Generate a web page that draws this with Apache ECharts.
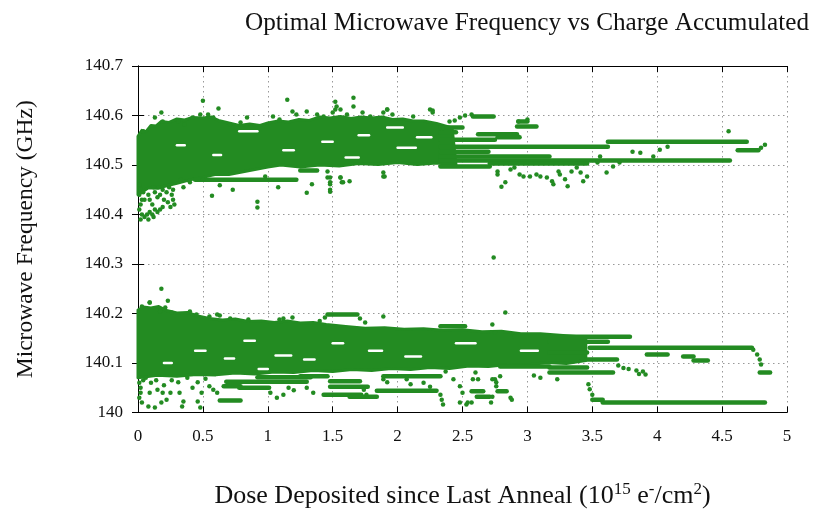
<!DOCTYPE html>
<html><head><meta charset="utf-8">
<script src="https://cdn.jsdelivr.net/npm/echarts@6/dist/echarts.min.js"></script>
<style>html,body{margin:0;padding:0;background:#fff}#c{width:817px;height:514px}</style>
</head><body><div id="c"></div>
<script>
const GREEN = '#238b22';
const titleText = 'Optimal Microwave Frequency vs Charge Accumulated';
const xTickLabels = ['0','0.5','1','1.5','2','2.5','3','3.5','4','4.5','5'];
const yTickLabels = ['140','140.1','140.2','140.3','140.4','140.5','140.6','140.7'];

// dense cores (envelopes) [dose, GHz]
const upperCore = [[0,140.558],[0.03,140.57],[0.06,140.567],[0.1,140.58],[0.14,140.579],[0.18,140.588],[0.24,140.586],[0.3,140.593],[0.36,140.591],[0.42,140.596],[0.5,140.595],[0.56,140.597],[0.62,140.59],[0.7,140.585],[0.78,140.58],[0.86,140.583],[0.94,140.58],[1.0,140.585],[1.08,140.589],[1.16,140.587],[1.24,140.592],[1.32,140.59],[1.4,140.597],[1.48,140.595],[1.56,140.598],[1.64,140.594],[1.72,140.597],[1.8,140.595],[1.88,140.597],[1.96,140.592],[2.04,140.593],[2.12,140.589],[2.2,140.589],[2.3,140.584],[2.42,140.575],
  [2.45,140.5],[2.3,140.504],[2.15,140.501],[2.0,140.505],[1.85,140.501],[1.7,140.503],[1.55,140.498],[1.4,140.5],[1.25,140.496],[1.1,140.5],[1.0,140.496],[0.9,140.491],[0.8,140.486],[0.7,140.481],[0.6,140.481],[0.5,140.475],[0.4,140.47],[0.3,140.463],[0.22,140.458],[0.15,140.453],[0.08,140.454],[0,140.44]];
const lowerCore = [[0,140.207],[0.04,140.213],[0.1,140.211],[0.16,140.214],[0.22,140.206],[0.3,140.201],[0.38,140.202],[0.46,140.195],[0.55,140.19],[0.65,140.187],[0.75,140.189],[0.85,140.184],[0.95,140.185],[1.05,140.182],[1.15,140.185],[1.25,140.181],[1.35,140.182],[1.45,140.178],[1.6,140.174],[1.75,140.17],[1.9,140.171],[2.05,140.168],[2.2,140.169],[2.35,140.166],[2.5,140.167],[2.65,140.163],[2.8,140.164],[2.95,140.159],[3.1,140.159],[3.3,140.155],[3.45,140.152],
  [3.45,140.105],[3.3,140.099],[3.15,140.101],[3.0,140.096],[2.85,140.097],[2.7,140.093],[2.55,140.094],[2.4,140.089],[2.25,140.091],[2.1,140.087],[1.95,140.089],[1.8,140.085],[1.65,140.087],[1.5,140.083],[1.35,140.085],[1.2,140.081],[1.05,140.082],[0.9,140.078],[0.75,140.08],[0.6,140.076],[0.45,140.077],[0.3,140.073],[0.15,140.075],[0,140.07]];

// horizontal runs of points [doseStart, doseEnd, GHz]
const upperRuns = [[0.44,1.22,140.470],[1.25,1.38,140.489],[2.33,2.50,140.576],[2.33,2.45,140.566],[2.58,2.74,140.598],[2.62,2.92,140.562],[2.33,2.75,140.551],[2.77,2.94,140.556],[2.92,3.07,140.578],[2.93,3.00,140.588],[2.33,3.62,140.537],[3.62,4.69,140.547],[4.62,4.78,140.530],[2.33,2.70,140.527],[2.33,3.17,140.517],[2.33,4.56,140.509],[2.33,2.71,140.497],[2.71,3.46,140.503]];
const lowerRuns = [[1.46,1.69,140.198],[2.33,2.52,140.174],[2.9,3.79,140.153],[3.17,3.62,140.143],[3.48,4.73,140.131],[3.45,3.69,140.107],[3.17,3.46,140.121],[3.92,4.08,140.117],[4.20,4.28,140.113],[4.28,4.39,140.105],[4.79,4.87,140.081],[3.17,3.66,140.081],[3.17,3.46,140.091],[2.79,3.17,140.093],[3.58,4.83,140.020],[3.50,3.58,140.026],[0.63,0.79,140.024],[1.84,2.30,140.044],[0.66,0.79,140.053],[0.68,1.30,140.062],[0.78,1.01,140.050],[1.43,1.72,140.036],[1.63,1.84,140.032],[1.48,1.77,140.052],[1.25,1.46,140.073],[1.48,1.71,140.063],[1.89,2.33,140.073],[0.92,1.33,140.071],[2.61,2.71,140.032],[2.57,2.66,140.043],[2.77,2.84,140.043]];

// empty stripes inside the dense cores [doseStart, doseEnd, GHz]
const upperGaps = [[1.92,2.04,140.576],[2.0,2.14,140.535],[1.6,1.7,140.515],[1.42,1.5,140.547],[0.78,0.92,140.568],[2.15,2.26,140.556],[1.12,1.2,140.53],[0.58,0.64,140.52],[1.7,1.78,140.56],[0.3,0.36,140.54]];
const lowerGaps = [[0.67,0.74,140.109],[0.44,0.52,140.125],[1.06,1.18,140.115],[0.82,0.9,140.145],[1.78,1.88,140.125],[2.06,2.18,140.113],[1.28,1.36,140.107],[0.93,1.0,140.088],[2.45,2.6,140.14],[2.95,3.08,140.125],[1.5,1.58,140.14],[0.2,0.26,140.1]];

// individual points [dose, GHz]
const upperPoints = [[0.50,140.630],[1.15,140.632],[1.52,140.628],[1.66,140.636],[0.18,140.606],[0.62,140.614],[2.27,140.610],[0.57,140.438],[0.92,140.426],[0.92,140.414],[0.73,140.450],[0.63,140.459],[1.30,140.444],[1.34,140.461],[1.48,140.475],[1.48,140.465],[1.48,140.450],[1.56,140.475],[1.58,140.465],[1.63,140.467],[1.89,140.485],[1.89,140.477],[1.08,140.455],[0.98,140.477],
  [2.40,140.588],[2.48,140.596],[2.57,140.602],[2.93,140.588],[3.0,140.592],[2.35,140.575],[2.44,140.59],[2.52,140.6],
  [2.80,140.456],[2.83,140.465],[2.77,140.487],[2.77,140.481],[2.87,140.491],[2.90,140.495],[2.94,140.481],[2.97,140.477],[3.02,140.477],[3.07,140.481],[3.10,140.477],[3.15,140.475],[3.19,140.467],[3.20,140.461],[3.24,140.487],[3.25,140.481],[3.29,140.471],[3.31,140.457],[3.34,140.487],[3.38,140.495],[3.41,140.485],[3.43,140.467],[3.46,140.477],[3.54,140.505],[3.56,140.517],[3.61,140.485],[3.66,140.497],[3.71,140.505],[3.81,140.527],[3.87,140.525],[3.97,140.517],[4.02,140.531],[4.08,140.537],[4.55,140.568],[4.83,140.541],[4.80,140.535],
  [1.53,140.618],[1.52,140.612],[1.66,140.618],[1.92,140.612],[1.89,140.606],[2.25,140.612],[2.27,140.606],[1.46,140.487],[1.46,140.475],[1.48,140.461],[1.48,140.446],[1.56,140.475],[1.57,140.465],[1.90,140.477],
  [0.13,140.596],[0.19,140.588],[0.42,140.596],[0.48,140.602],[0.54,140.602],[0.58,140.596],[0.31,140.588],[0.36,140.582],[0.71,140.582],[0.79,140.586],[0.84,140.596],[0.04,140.568],
  [1.04,140.598],[1.09,140.592],[1.19,140.608],[1.22,140.602],[1.30,140.608],[1.38,140.602],[1.43,140.598],[1.50,140.606],[1.56,140.612],[1.61,140.602],[1.73,140.606],[1.79,140.598],[1.92,140.612],[1.96,140.602],[2.12,140.598],
  [0.01,140.46],[0.02,140.45],[0.01,140.44],[0.03,140.43],[0.02,140.42],[0.01,140.41],[0.03,140.40],[0.05,140.395],[0.02,140.39],[0.04,140.445],[0.05,140.43],
  [0.07,140.40],[0.09,140.405],[0.11,140.40],[0.13,140.41],[0.15,140.405],[0.17,140.41],[0.19,140.415],[0.08,140.39],[0.12,140.395],
  [0.27,140.43],[0.28,140.42],[0.26,140.44],[0.25,140.415],[0.23,140.425],[0.22,140.445],[0.24,140.455],[0.27,140.45],
  [0.08,140.44],[0.09,140.43],[0.11,140.42],[0.13,140.445],[0.15,140.435],[0.17,140.44],[0.19,140.45],[0.12,140.455],[0.16,140.455],[0.2,140.43],
  [0.35,140.455],[0.4,140.465],[0.5,140.47],[0.33,140.47]];
const lowerPoints = [[0.18,140.250],[0.23,140.226],[0.09,140.222],[1.89,140.194],[0.63,140.196],[0.71,140.19],[0.85,140.188],[1.12,140.19],[2.74,140.313],[2.83,140.202],[2.73,140.178],[2.75,140.162],
  [1.40,140.185],[1.44,140.192],[1.71,140.19],[1.75,140.182],
  [0.03,140.214],[0.09,140.222],[0.17,140.204],[0.21,140.212],[0.26,140.202],[0.40,140.204],[0.45,140.198],[0.55,140.194],[0.61,140.198],[1.09,140.188],[1.19,140.192],
  [4.74,140.127],[4.77,140.117],[4.79,140.107],[4.80,140.097],[3.47,140.057],[3.48,140.047],[3.5,140.036],
  [3.7,140.095],[3.74,140.09],[3.78,140.088],[3.84,140.085],[3.86,140.078],[3.89,140.083],[3.91,140.077],
  [2.33,140.036],[2.34,140.026],[2.35,140.016],[2.07,140.067],[2.10,140.057],[1.89,140.067],[1.92,140.061],[1.74,140.046],[1.76,140.036],[2.48,140.02],[2.53,140.016],
  [2.37,140.083],[2.43,140.067],[2.48,140.053],[2.50,140.04],[2.54,140.02],[2.57,140.02],[2.75,140.067],[2.76,140.053],[2.73,140.032],[2.72,140.02],[2.87,140.03],[2.88,140.026],[2.58,140.067],[2.60,140.081],[2.62,140.067],[2.73,140.067],[2.76,140.061],[2.79,140.073],[3.23,140.067],
  [0.08,140.012],[0.13,140.01],[0.09,140.04],[0.15,140.046],[0.19,140.04],[0.22,140.026],[0.25,140.04],[0.34,140.012],[0.35,140.022],[0.32,140.04],[0.31,140.061],[0.46,140.022],[0.48,140.01],[0.49,140.04],[0.46,140.061],[0.55,140.053],[0.58,140.046],[0.61,140.04],[0.18,140.02],
  [0.01,140.06],[0.02,140.04],[0.01,140.03],[0.03,140.02],[0.02,140.05],[0.04,140.065],[0.06,140.07],[0.1,140.06],[0.14,140.065],[0.2,140.055],[0.26,140.065],[0.38,140.07],[0.42,140.05],[0.52,140.068],
  [1.02,140.04],[1.07,140.03],[1.12,140.036],[1.16,140.05],[1.2,140.045],[1.3,140.05],[1.35,140.04],[2.2,140.06],[2.25,140.052],[3.05,140.075],[3.1,140.07]];

function runItem(fill, h) {
  return function (params, api) {
    const a = api.coord([api.value(0), api.value(2)]);
    const b = api.coord([api.value(1), api.value(2)]);
    return { type: 'rect', shape: { x: a[0] - h / 2, y: a[1] - h / 2, width: b[0] - a[0] + h, height: h, r: h / 2 }, style: { fill: fill } };
  };
}
function polyItem(poly) {
  return function (params, api) {
    return { type: 'polygon', shape: { points: poly.map(p => api.coord(p)) }, style: { fill: GREEN, stroke: GREEN, lineWidth: 3, lineJoin: 'round' } };
  };
}

const chart = echarts.init(document.getElementById('c'), null, { renderer: 'canvas' });
const serif = 'Liberation Serif';
const axisCommon = {
  min: 0, max: 5, interval: 0.5,
  axisLine: { show: true, lineStyle: { color: '#000', width: 1 } },
  axisTick: { show: true, inside: true, length: 6, lineStyle: { color: '#000' } },
};
chart.setOption({
  animation: false,
  backgroundColor: '#fff',
  title: { text: titleText, left: 240, top: 6, textStyle: { fontFamily: serif, fontSize: 25.2, fontWeight: 'normal', color: '#111' } },
  grid: { left: 138, right: 30, top: 66, bottom: 101 },
  xAxis: [
    Object.assign({}, axisCommon, {
      type: 'value', position: 'bottom',
      name: '{a|Dose Deposited since Last Anneal (10}{s|15}{a| e}{s|-}{a|/cm}{s|2}{a|)}',
      nameLocation: 'middle', nameGap: 69,
      nameTextStyle: { rich: { a: { fontFamily: serif, fontSize: 26, color: '#111' }, s: { fontFamily: serif, fontSize: 17, color: '#111', verticalAlign: 'top', padding: [0, 0, 12, 0] } } },
      axisLabel: { fontFamily: serif, fontSize: 17, color: '#111', margin: 16, formatter: v => xTickLabels[Math.round(v * 2)] },
      splitLine: { show: true, lineStyle: { color: '#999', type: [1.5, 3.5], width: 1 } }
    }),
    Object.assign({}, axisCommon, { type: 'value', position: 'top', axisLabel: { show: false }, splitLine: { show: false } })
  ],
  yAxis: [
    {
      type: 'value', min: 140, max: 140.7, interval: 0.1, position: 'left',
      name: 'Microwave Frequency (GHz)', nameLocation: 'middle', nameGap: 100,
      nameTextStyle: { fontFamily: serif, fontSize: 23.5, color: '#111' },
      axisLine: { show: true, lineStyle: { color: '#000', width: 1 } },
      axisTick: { show: true, inside: true, length: 6, lineStyle: { color: '#000' } },
      axisLabel: { fontFamily: serif, fontSize: 17, color: '#111', margin: 15, formatter: v => yTickLabels[Math.round((v - 140) * 10)] },
      splitLine: { show: true, lineStyle: { color: '#999', type: [1.5, 3.5], width: 1 } }
    },
    {
      type: 'value', min: 140, max: 140.7, interval: 0.1, position: 'right',
      axisLine: { show: true, lineStyle: { color: '#000', width: 1 } },
      axisTick: { show: true, inside: true, length: 6, lineStyle: { color: '#000' } },
      axisLabel: { show: false }, splitLine: { show: false }
    }
  ],
  series: [
    { type: 'custom', renderItem: polyItem(upperCore), data: [[0, 140.5]], silent: true, z: 2 },
    { type: 'custom', renderItem: polyItem(lowerCore), data: [[0, 140.1]], silent: true, z: 2 },
    { type: 'custom', renderItem: runItem('#ffffff', 2.5), data: upperGaps.concat(lowerGaps), encode: { x: [0, 1], y: 2 }, silent: true, z: 3 },
    { type: 'custom', renderItem: runItem(GREEN, 4.5), data: upperRuns.concat(lowerRuns), encode: { x: [0, 1], y: 2 }, silent: true, z: 4 },
    { type: 'scatter', data: upperPoints.concat(lowerPoints), symbolSize: 4.5, itemStyle: { color: GREEN, opacity: 1 }, silent: true, z: 5 }
  ]
});
</script>
</body></html>
